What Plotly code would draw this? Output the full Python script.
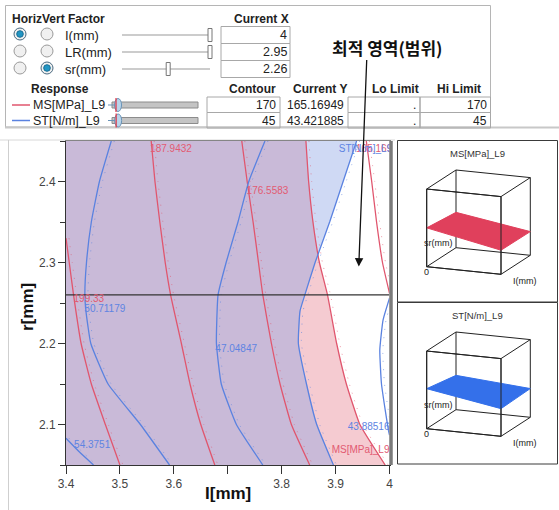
import numpy as np
import plotly.graph_objects as go

W, H = 559, 510
FONT = "Liberation Sans, Arial, sans-serif"
KFONT = "Noto Sans CJK KR, sans-serif"

# ---------------- data ----------------
factor_names = ["I(mm)", "LR(mm)", "sr(mm)"]
factor_current = [4.0, 2.95, 2.26]
factor_labels = ["4", "2.95", "2.26"]
factor_ranges = [(3.4, 4.0), (2.5, 2.95), (2.05, 2.45)]
horiz_selected = 0
vert_selected = 2

response_names = ["MS[MPa]_L9", "ST[N/m]_L9"]
contour_values = [170, 45]
contour_ranges = [(163, 263), (44, 58)]
current_y = ["165.16949", "43.421885"]
lo_limits = [".", "."]
hi_limits = ["170", "45"]

x_ticks = [3.4, 3.5, 3.6, 3.7, 3.8, 3.9, 4.0]
x_tick_labels = ["3.4", "3.5", "3.6", "", "3.8", "3.9", "4"]
y_ticks = [2.1, 2.2, 2.3, 2.4]
y_tick_labels = ["2.1", "2.2", "2.3", "2.4"]

sr_full = [2.45, 2.40, 2.35, 2.30, 2.26, 2.20, 2.15, 2.10, 2.05]

# MS[MPa]_L9 contour lines (I values along sr)
ms_199_sr = [2.33, 2.30, 2.26, 2.20, 2.15, 2.10, 2.05]
ms_199_I = [3.400, 3.406, 3.414, 3.428, 3.447, 3.473, 3.500]
ms_188_I = [3.558, 3.565, 3.574, 3.584, 3.594, 3.614, 3.630, 3.650, 3.676]
ms_177_I = [3.726, 3.736, 3.747, 3.757, 3.765, 3.781, 3.797, 3.818, 3.852]
ms_170_I = [3.845, 3.850, 3.858, 3.870, 3.885, 3.902, 3.920, 3.945, 3.992]
ms_165_sr = [2.45, 2.40, 2.35, 2.30, 2.262]
ms_165_I = [3.957, 3.967, 3.976, 3.987, 4.000]

# ST[N/m]_L9 contour lines
st_544_sr = [2.083, 2.066, 2.05]
st_544_I = [3.400, 3.425, 3.451]
st_507_sr = [2.45, 2.40, 2.35, 2.30, 2.26, 2.24, 2.20, 2.15, 2.10, 2.05]
st_507_I = [3.484, 3.462, 3.447, 3.438, 3.435, 3.437, 3.446, 3.478, 3.538, 3.592]
st_470_I = [3.769, 3.739, 3.719, 3.697, 3.682, 3.679, 3.688, 3.716, 3.765]
st_450_sr = [2.45, 2.40, 2.35, 2.30, 2.26, 2.24, 2.20, 2.15, 2.10, 2.05]
st_450_I = [3.939, 3.914, 3.889, 3.862, 3.843, 3.834, 3.831, 3.846, 3.865, 3.896]
st_439_sr = [2.256, 2.229, 2.192, 2.151, 2.118, 2.093, 2.087]
st_439_I = [4.000, 3.988, 3.982, 3.985, 3.992, 3.998, 4.000]

# contour labels
red_label_text = ["187.9432", "176.5583", "199.33", "165.1695"]
red_label_I = [3.556, 3.735, 3.414, 3.938]
red_label_sr = [2.440, 2.388, 2.2545, 2.440]
blue_label_text = ["50.71179", "47.04847", "54.3751", "ST[N/m]_L9"]
blue_label_I = [3.434, 3.677, 3.415, 3.906]
blue_label_sr = [2.2425, 2.192, 2.0736, 2.440]
right_label_text = ["43.88516", "MS[MPa]_L9"]
right_label_color = ["blue", "red"]
right_label_sr = [2.096, 2.068]

# 3D surface corner heights (u = I, v = sr depth) fraction of box height
ms_surface_w = [[0.50, 0.455], [0.31, 0.305]]   # [u][v]
st_surface_w = [[0.515, 0.442], [0.356, 0.37]]

# ---------------- styles ----------------
RED = "#E0566E"
BLUE = "#5A82E0"
RED_T = "#E25A72"
BLUE_T = "#5E84E2"
PINK_FILL = "#F5CBD1"
BLUE_FILL = "#CFD9F4"
PURPLE_FILL = "#C9BAD8"

X_RANGE = [3.4, 4.0]
Y_RANGE = [2.05, 2.45]
XD = [66 / W, 389.5 / W]
YD = [1 - 465 / H, 1 - 141 / H]
HATCH_OFFSET = 3.0 / (XD[1] - XD[0]) / W * (X_RANGE[1] - X_RANGE[0])

fig = go.Figure()

# --- fill regions ---
def region(I_vals, sr_vals):
    xs = [X_RANGE[0]] + list(I_vals) + [X_RANGE[0]]
    ys = [sr_vals[0]] + list(sr_vals) + [sr_vals[-1]]
    return xs, ys

px_, py_ = region(ms_170_I, sr_full)
fig.add_trace(go.Scatter(x=px_, y=py_, fill="toself", fillcolor=PINK_FILL, mode="lines",
                         line=dict(width=0), hoverinfo="skip", showlegend=False))
bx_, by_ = region(st_450_I, st_450_sr)
fig.add_trace(go.Scatter(x=bx_, y=by_, fill="toself", fillcolor=BLUE_FILL, mode="lines",
                         line=dict(width=0), hoverinfo="skip", showlegend=False))
sr_dense = np.linspace(Y_RANGE[0], Y_RANGE[1], 201)
ms_d = np.interp(sr_dense, sr_full[::-1], ms_170_I[::-1])
st_d = np.interp(sr_dense, st_450_sr[::-1], st_450_I[::-1])
pur_I = np.minimum(ms_d, st_d)
ux_, uy_ = region(pur_I, sr_dense)
fig.add_trace(go.Scatter(x=ux_, y=uy_, fill="toself", fillcolor=PURPLE_FILL, mode="lines",
                         line=dict(width=0), hoverinfo="skip", showlegend=False))

# --- contour lines (with faint hatch marks on one side) ---
def cline(I_vals, sr_vals, color):
    fig.add_trace(go.Scatter(x=[v + HATCH_OFFSET for v in I_vals], y=sr_vals, mode="lines",
                             line=dict(color=color, width=1, dash="1px,7px", shape="spline", smoothing=0.4),
                             opacity=0.6, hoverinfo="skip", showlegend=False))
    fig.add_trace(go.Scatter(x=I_vals, y=sr_vals, mode="lines",
                             line=dict(color=color, width=1.3, shape="spline", smoothing=0.4),
                             hoverinfo="skip", showlegend=False))

cline(ms_199_I, ms_199_sr, RED)
cline(ms_188_I, sr_full, RED)
cline(ms_177_I, sr_full, RED)
cline(ms_170_I, sr_full, RED)
cline(ms_165_I, ms_165_sr, RED)
cline(st_544_I, st_544_sr, BLUE)
cline(st_507_I, st_507_sr, BLUE)
cline(st_470_I, sr_full, BLUE)
cline(st_450_I, st_450_sr, BLUE)
cline(st_439_I, st_439_sr, BLUE)

# crosshair (current sr)
fig.add_trace(go.Scatter(x=X_RANGE, y=[factor_current[2]] * 2, mode="lines",
                         line=dict(color="#333333", width=1.4), hoverinfo="skip", showlegend=False))

# --- labels ---
fig.add_trace(go.Scatter(x=red_label_I, y=red_label_sr, text=red_label_text, mode="text",
                         textposition="middle right", cliponaxis=True,
                         textfont=dict(size=10, color=RED_T, family=FONT),
                         hoverinfo="skip", showlegend=False))
fig.add_trace(go.Scatter(x=blue_label_I, y=blue_label_sr, text=blue_label_text, mode="text",
                         textposition="middle right", cliponaxis=True,
                         textfont=dict(size=10, color=BLUE_T, family=FONT),
                         hoverinfo="skip", showlegend=False))
fig.add_trace(go.Scatter(x=[X_RANGE[1]] * 2, y=right_label_sr, text=right_label_text, mode="text",
                         textposition="middle left", cliponaxis=True,
                         textfont=dict(size=10, color=[BLUE_T if c == "blue" else RED_T for c in right_label_color], family=FONT),
                         hoverinfo="skip", showlegend=False))

# ---------------- pixel overlay (UI) ----------------
shapes = []
annotations = []

def rect(x0, y0, x1, y1, line="#999", fill="rgba(0,0,0,0)", lw=1):
    shapes.append(dict(type="rect", xref="x2", yref="y2", x0=x0, y0=y0, x1=x1, y1=y1,
                       line=dict(color=line, width=lw), fillcolor=fill, layer="above"))

def seg(x0, y0, x1, y1, color="#999", lw=1):
    shapes.append(dict(type="line", xref="x2", yref="y2", x0=x0, y0=y0, x1=x1, y1=y1,
                       line=dict(color=color, width=lw), layer="above"))

def circ(cx, cy, r, line="#aaa", fill="#f2f2f2", lw=1):
    shapes.append(dict(type="circle", xref="x2", yref="y2", x0=cx - r, y0=cy - r, x1=cx + r, y1=cy + r,
                       line=dict(color=line, width=lw), fillcolor=fill, layer="above"))

def txt(s, x, y, size=12.5, color="#222", bold=False, anchor="left", family=FONT, angle=0):
    annotations.append(dict(xref="x2", yref="y2", x=x, y=y, text=f"<b>{s}</b>" if bold else s,
                            showarrow=False, xanchor=anchor, yanchor="middle", textangle=angle,
                            borderpad=0, font=dict(size=size, color=color, family=family)))

# top panel frame
rect(5.5, 5.5, 490.5, 127, line="#b5b5b5")
seg(5, 127.5, W, 127.5, color="#c8c8c8", lw=2)
# bottom panel frame
seg(0, 140, 395, 140, color="#d8d8d8")
seg(8.5, 140, 8.5, H, color="#cfcfcf")

# header
txt("HorizVert Factor", 11, 19, size=12, bold=True)
txt("Current X", 290, 19, size=12, bold=True, anchor="right")
row_y = [35, 52, 69]
for i, name in enumerate(factor_names):
    y = row_y[i]
    for j, cx in enumerate([20, 47]):
        sel = (j == 0 and i == horiz_selected) or (j == 1 and i == vert_selected)
        circ(cx, y - 1, 6, line="#9a9a9a" if not sel else "#4a6a80", fill="#f0f0f0")
        if sel:
            circ(cx, y - 1, 3.3, line="#1a6f96", fill="#2196c4")
    txt(name, 64, y, size=13)
    seg(122, y, 210, y, color="#999")
    lo, hi = factor_ranges[i]
    hx = 122 + (factor_current[i] - lo) / (hi - lo) * (210 - 122)
    hx = min(max(hx, 122), 211)
    rect(hx - 2, y - 6.5, hx + 2, y + 6.5, line="#777", fill="#ffffff")
    rect(221, y - 8.5, 290, y + 8.5, line="#a8a8a8")
    txt(factor_labels[i], 288, y, size=12.5, anchor="right")

txt("Response", 30, 89, size=12, bold=True)
txt("Contour", 277, 89, size=12, bold=True, anchor="right")
txt("Current Y", 320, 89, size=12, bold=True, anchor="center")
txt("Lo Limit", 395, 89, size=12, bold=True, anchor="center")
txt("Hi Limit", 459, 89, size=12, bold=True, anchor="center")

resp_y = [105, 120.5]
resp_colors = [RED, BLUE]
for i, name in enumerate(response_names):
    y = resp_y[i]
    seg(12, y, 30, y, color=resp_colors[i], lw=1.5)
    txt(name, 32, y, size=12.5)
    rect(112, y - 3, 198, y + 3, line="#8c8c8c", fill="#c4c4c4")
    lo, hi = contour_ranges[i]
    hx = 112 + (contour_values[i] - lo) / (hi - lo) * (198 - 112)
    shapes.append(dict(type="circle", xref="x2", yref="y2", x0=hx - 3.5, y0=y - 6.5, x1=hx + 3.5, y1=y + 6.5,
                       line=dict(color="#6a94b8", width=1), fillcolor="#b9d4ea", layer="above"))
    seg(hx - 2, y - 7, hx - 2, y + 7, color="#e03040", lw=1.2)
    seg(108, y, hx - 3, y, color="#6a94b8", lw=1)
    rect(207, y - 8, 280, y + 7.5, line="#a8a8a8")
    txt(str(contour_values[i]), 277, y, size=12, anchor="right")
    txt(current_y[i], 345, y, size=12, anchor="right")
    rect(348, y - 8, 420, y + 7.5, line="#a8a8a8")
    txt(lo_limits[i], 417, y, size=12, anchor="right")
    rect(420, y - 8, 490.5, y + 7.5, line="#a8a8a8")
    txt(hi_limits[i], 488, y, size=12, anchor="right")

# Korean annotation
txt("최적 영역(범위)", 387, 47, size=17, bold=True, anchor="center", family=KFONT, color="#111")

# axis titles
txt("I[mm]", 228, 493, size=17, bold=True, anchor="center", color="#111")
txt("r[mm]", 27, 307, size=17, bold=True, anchor="center", color="#111", angle=-90)

# plot area right edge bar (current I crosshair)
xbar = XD[0] + (factor_current[0] - X_RANGE[0]) / (X_RANGE[1] - X_RANGE[0]) * (XD[1] - XD[0])
shapes.append(dict(type="line", xref="paper", yref="paper", x0=xbar + 1.5 / W, x1=xbar + 1.5 / W,
                   y0=YD[0], y1=YD[1], line=dict(color="#7a7a7a", width=3.5), layer="above"))

# ---------------- 3D panels ----------------
EX = (74.3, 7.6)
ED = (29.3, -19.0)
EH = (0.0, -77.7)

def proj(u, v, w, org):
    return (org[0] + u * EX[0] + v * ED[0] + w * EH[0],
            org[1] + u * EX[1] + v * ED[1] + w * EH[1])

corners = [(u, v, w) for u in (0, 1) for v in (0, 1) for w in (0, 1)]
edges = [(a, b) for a in corners for b in corners
         if a < b and sum(abs(a[k] - b[k]) for k in range(3)) == 1]

def panel(top, title, surf_w, color):
    rect(397.5, top + 0.5, 557.5, top + 162, line="#3a3a3a")
    txt(title, 477, top + 13, size=9.5, anchor="center", color="#333")
    org = (426.7, top + 126.7)
    ex, ey = [], []
    for a, b in edges:
        p, q = proj(*a, org), proj(*b, org)
        ex += [p[0], q[0], None]
        ey += [p[1], q[1], None]
    fig.add_trace(go.Scatter(x=ex, y=ey, mode="lines", line=dict(color="#222", width=1),
                             xaxis="x2", yaxis="y2", hoverinfo="skip", showlegend=False))
    quad = [(0, 0), (0, 1), (1, 1), (1, 0), (0, 0)]
    sx, sy = [], []
    for u, v in quad:
        p = proj(u, v, surf_w[u][v], org)
        sx.append(p[0]); sy.append(p[1])
    fig.add_trace(go.Scatter(x=sx, y=sy, mode="lines", fill="toself", fillcolor=color,
                             line=dict(color=color, width=1), xaxis="x2", yaxis="y2",
                             hoverinfo="skip", showlegend=False))
    fx, fy = [], []
    for a, b in edges:
        if a[1] == 0 and b[1] == 0:
            p, q = proj(*a, org), proj(*b, org)
            fx += [p[0], q[0], None]
            fy += [p[1], q[1], None]
    fig.add_trace(go.Scatter(x=fx, y=fy, mode="lines", line=dict(color="#222", width=1),
                             xaxis="x2", yaxis="y2", hoverinfo="skip", showlegend=False))
    p0 = proj(0, 0, 0, org)
    txt("0", p0[0] - 4, p0[1] + 5, size=9, color="#222")
    pl = proj(0, 0, 0.3, org)
    txt("sr(mm)", pl[0] - 4, pl[1], size=9, color="#222")
    pi = proj(1, 0, 0, org)
    txt("I(mm)", pi[0] + 11, pi[1] + 6.5, size=9, color="#222")

panel(140, response_names[0], ms_surface_w, "#E0405C")
panel(302, response_names[1], st_surface_w, "#3470EA")

# arrow
arrow_I, arrow_sr = 3.943, 2.295
annotations.append(dict(x=arrow_I, y=arrow_sr, xref="x", yref="y", text="", showarrow=True,
                        ax=8, ay=-208, arrowhead=2, arrowsize=1.3, arrowwidth=1.3,
                        arrowcolor="#111"))

axis_common = dict(showgrid=False, zeroline=False, showline=True, linecolor="#333", linewidth=1,
                   mirror=True, ticks="outside", tickcolor="#333", tickwidth=1, automargin=False,
                   tickfont=dict(size=12, color="#444", family=FONT))

fig.update_layout(
    width=W, height=H, margin=dict(l=0, r=0, t=0, b=0, autoexpand=False), autosize=False,
    paper_bgcolor="white", plot_bgcolor="rgba(0,0,0,0)", showlegend=False,
    xaxis=dict(domain=XD, range=X_RANGE, tickvals=x_ticks, ticktext=x_tick_labels, ticklen=8,
               anchor="y", **axis_common),
    yaxis=dict(domain=YD, range=Y_RANGE, tickvals=y_ticks, ticktext=y_tick_labels, ticklen=7,
               anchor="x", minor=dict(ticks="outside", ticklen=5, dtick=0.05, tick0=2.05,
                                      tickcolor="#333"), **axis_common),
    xaxis2=dict(domain=[0, 1], range=[0, W], visible=False, anchor="y2", fixedrange=True,
                automargin=False),
    yaxis2=dict(domain=[0, 1], range=[H, 0], visible=False, anchor="x2", fixedrange=True,
                automargin=False),
    shapes=shapes, annotations=annotations,
)

fig.write_html("out.html", config={"displayModeBar": False, "staticPlot": True},
               post_script="document.body.style.margin='0';")
